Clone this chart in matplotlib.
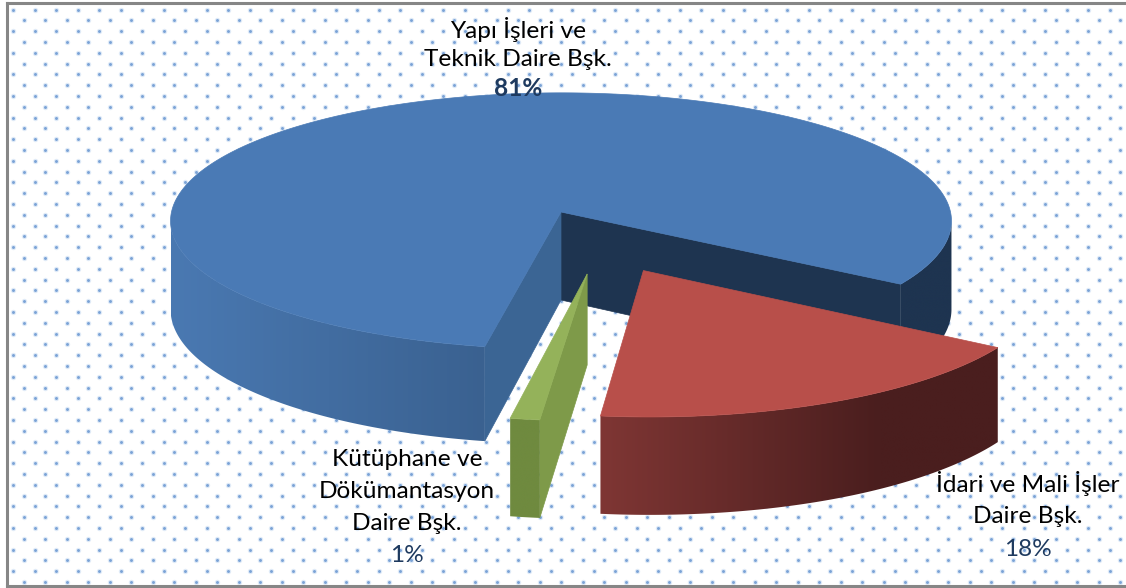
import matplotlib
matplotlib.use("Agg")
import matplotlib.pyplot as plt
from matplotlib.colors import to_rgb
from matplotlib.patches import Polygon
import numpy as np

plt.rcParams['font.family'] = ['Lato', 'DejaVu Sans']

# shares going counter clockwise from the right hand cut of the big slice
names = ["Yapı İşleri ve\nTeknik Daire Bşk.", "Kütüphane ve\nDökümantasyon\nDaire Bşk.", "İdari ve Mali İşler\nDaire Bşk."]
shares = [81.25, 1.1, 17.65]

top_colors = ["#4A7AB5", "#94B25A", "#B84F4A"]
start_angle = -33.0
# pull of each slice from the middle, (right, away from viewer), in radii
pulls = [(0.0, 0.0), (0.065, -0.47), (0.205, -0.445)]

# pie geometry in pixels
cx, cy = 561, 212
rx, ry = 389.5, 127.5
persp = 0.07
depth = 88


def project(u, v, down=0.0):
    s = 1.0 / (1.0 + persp * v)
    return cx + rx * u * s, cy - ry * v * s + depth * down * s


def rim(angle_from, angle_to, pull, n=200):
    a = np.radians(np.linspace(angle_from, angle_to, n))
    return np.cos(a) + pull[0], np.sin(a) + pull[1]


def wall(ax, angle_from, angle_to, pull, col_left, col_right, x_left, x_right, z):
    # outer wall: polygon used as a clip for a left to right colour gradient
    u, v = rim(angle_from, angle_to, pull)
    xt, yt = project(u, v)
    xb, yb = project(u, v, 1.0)
    pts = np.c_[np.r_[xt, xb[::-1]], np.r_[yt, yb[::-1]]]
    xs = np.linspace(pts[:, 0].min(), pts[:, 0].max(), 256)
    t = np.clip((xs - x_left) / (x_right - x_left), 0, 1)[:, None]
    grad = np.array(to_rgb(col_left)) + (np.array(to_rgb(col_right)) - np.array(to_rgb(col_left))) * t
    im = ax.imshow(grad[None, :, :], extent=[xs[0], xs[-1], pts[:, 1].max(), pts[:, 1].min()],
                   aspect='auto', zorder=z, interpolation='bilinear')
    im.set_clip_path(Polygon(pts, transform=ax.transData))


def cut_face(ax, angle, pull, col, z):
    u, v = rim(angle, angle, pull, 1)
    x0, y0 = project(pull[0], pull[1])
    x0b, y0b = project(pull[0], pull[1], 1.0)
    x1, y1 = project(u[0], v[0])
    x1b, y1b = project(u[0], v[0], 1.0)
    ax.fill([x0, x1, x1b, x0b], [y0, y1, y1b, y0b], color=col, lw=0.5, zorder=z)


def top_face(ax, angle_from, angle_to, pull, col, z):
    u, v = rim(angle_from, angle_to, pull, 400)
    x, y = project(u, v)
    x0, y0 = project(pull[0], pull[1])
    ax.fill(np.r_[x0, x], np.r_[y0, y], color=col, lw=0.5, zorder=z)


edges = start_angle + np.r_[0, np.cumsum(shares)] * 3.6

# where the big slice is widest on screen, the walls have to stop there
sweep = np.arange(0.0, 360.0, 0.25)
sweep_x = project(np.cos(np.radians(sweep)), np.sin(np.radians(sweep)))[0]
left_most = sweep[np.argmin(sweep_x)]
right_most = sweep[np.argmax(sweep_x)] - 360.0

fig = plt.figure(figsize=(11.26, 5.88), dpi=100)
ax = fig.add_axes([0, 0, 1, 1])
ax.axis('off')

# dotted chart background
dx, dy = 21.5, 10.8
for k, row_y in enumerate(np.arange(9.5, 585, dy)):
    row_x = np.arange(13 + (k % 2) * dx / 2, 1126, dx)
    ax.scatter(row_x, np.full(row_x.shape, row_y), s=15, color="#DFEAF7", lw=0, zorder=1)
    ax.scatter(row_x, np.full(row_x.shape, row_y), s=4.5, color="#7BA3D6", lw=0, zorder=1)

# frame
ax.plot([7, 7], [3, 586], color="#868686", lw=2.2, zorder=2)
ax.plot([7, 1126], [3, 3], color="#868686", lw=2.2, zorder=2)
ax.plot([7, 1126], [586, 586], color="#868686", lw=2.2, zorder=2)

# big blue slice
wall(ax, edges[0], right_most, pulls[0], "#1E3450", "#1E3450", 0, 1, 3)
cut_face(ax, edges[0], pulls[0], "#1E3450", 3)
wall(ax, left_most, edges[1], pulls[0], "#4A79B2", "#3A6190", 170, 486, 3)
cut_face(ax, edges[1], pulls[0], "#3B6594", 4)
top_face(ax, edges[0], edges[1], pulls[0], top_colors[0], 5)

# small green slice
cut_face(ax, edges[2], pulls[1], "#7E9A49", 6)
wall(ax, edges[1], edges[2], pulls[1], "#6F8A3F", "#6F8A3F", 0, 1, 6)
top_face(ax, edges[1], edges[2], pulls[1], top_colors[1], 7)

# red slice
wall(ax, edges[2], edges[3], pulls[2], "#7F3634", "#4A1E1E", 600, 880, 6)
top_face(ax, edges[2], edges[3], pulls[2], top_colors[2], 7)

# labels
label_x = [518, 407, 1028]
label_y = [29, 460, 484]
line_gap = [30, 32, 32.5]
pct_weight = ['bold', 'normal', 'normal']
for name, val, x, y, gap, w in zip(names, shares, label_x, label_y, line_gap, pct_weight):
    lines = name.split("\n")
    for i, line in enumerate(lines):
        ax.text(x, y + i * gap, line, ha='center', va='center', fontsize=17.6, color='black', zorder=10)
    ax.text(x, y + len(lines) * gap, f"{round(val)}%", ha='center', va='center', fontsize=17.6,
            color="#1E3A5F", fontweight=w, zorder=10)

ax.set_xlim(0, 1126)
ax.set_ylim(588, 0)
fig.savefig("out.png", dpi=100)
